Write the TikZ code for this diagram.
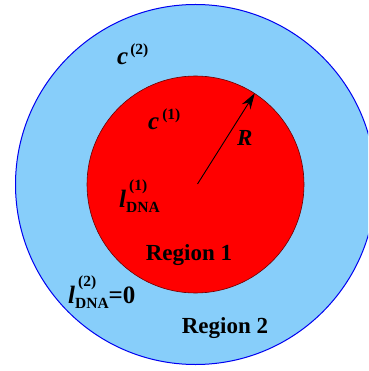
\documentclass[tikz,border=0pt]{standalone}
\usepackage{fontspec}
\setmainfont{Liberation Serif}
\usetikzlibrary{arrows.meta}
\definecolor{outerfill}{RGB}{135,206,250}
\definecolor{innerfill}{RGB}{255,0,0}
\definecolor{outerline}{RGB}{0,0,240}
\definecolor{innerline}{RGB}{110,0,0}
\tikzset{
  region/.style={circle,inner sep=0pt},
  lbl/.style={inner sep=0pt,font=\fontsize{23}{27}\selectfont\bfseries},
  mathlbl/.style={inner sep=0pt,font=\fontsize{25}{30}\selectfont\bfseries},
  radius arrow/.style={-{Stealth[length=16pt,width=10pt]},line width=0.9pt}
}
\newcommand{\bi}[1]{\textbf{\textit{#1}}}
\newcommand{\scr}[1]{{\fontsize{15.5}{18}\selectfont\bfseries #1}}
\newcommand{\supb}[2]{\raisebox{#1}{\scr{#2}}}
\begin{document}
\begin{tikzpicture}[x=1pt,y=-1pt]
\useasboundingbox (0,0) rectangle (368,371);
\begin{scope}
\clip (0,0) rectangle (368,371);
\node[region,fill=outerfill,draw=outerline,line width=1pt,minimum size=360pt] (outer) at (195.5,184.5) {};
\end{scope}
\node[region,fill=innerfill,draw=innerline,line width=0.6pt,minimum size=217pt] (inner) at (195.5,184.5) {};
\coordinate (ctr) at (197.5,184);
\draw[radius arrow] (ctr) -- (inner.57);
\node[mathlbl,anchor=base west] (c2) at (117,65) {\bi{c}\hspace{2pt}\supb{10pt}{(2)}};
\node[mathlbl,anchor=base west] (c1) at (148,130) {\bi{c}\hspace{3pt}\supb{10pt}{(1)}};
\node[mathlbl,anchor=base west] (R) at (237,146) {\fontsize{23}{27}\selectfont\bi{R}};
\node[mathlbl,anchor=base west] (l1) at (119,207) {\bi{l}\rlap{\hspace{3pt}\supb{17pt}{(1)}}\supb{-5pt}{DNA}};
\node[mathlbl,anchor=base west] (l2) at (68,303) {\bi{l}\rlap{\hspace{3pt}\supb{17pt}{(2)}}\supb{-5pt}{DNA}=0};
\node[lbl,anchor=base] (r1) at (189,260) {Region 1};
\node[lbl,anchor=base] (r2) at (225,333) {Region 2};
\end{tikzpicture}
\end{document}
